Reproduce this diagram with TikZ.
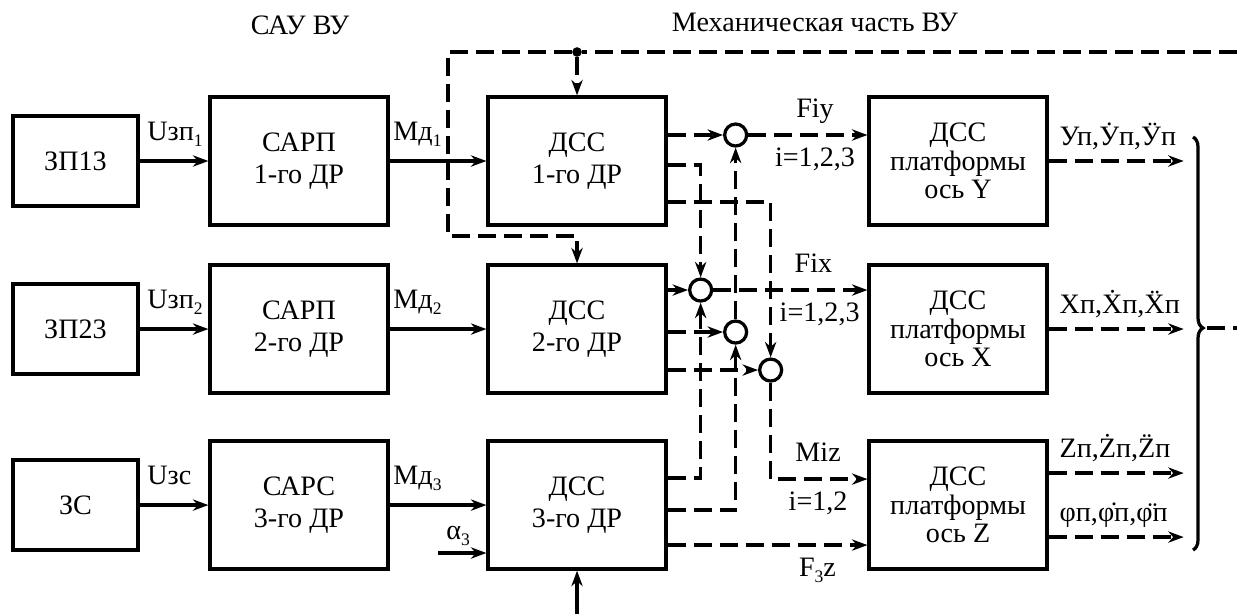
\documentclass[tikz,border=0pt]{standalone}
\usepackage{fontspec}
\setmainfont{Liberation Serif}
\usetikzlibrary{positioning, arrows.meta, calc, decorations.pathreplacing}
\newcommand{\dotover}[1]{\ooalign{#1\cr\hidewidth\raisebox{0.17em}{˙}\hidewidth\cr}}
\newcommand{\lowidx}[1]{\raisebox{-0.22em}{\fontsize{12.5}{12.5}\selectfont #1}}
\tikzset{
    >={Stealth[length=11pt, width=8pt, inset=3.5pt]}, % arrow heads
    blk/.style={draw, line width=2.3pt, minimum width=4.45cm, minimum height=3.2cm, align=center, inner sep=1pt,
        font=\fontsize{20}{22.7}\selectfont}, % big blocks
    plat/.style={blk, font=\fontsize{20}{20.3}\selectfont}, % platform blocks
    src/.style={draw, line width=2.3pt, minimum width=3.125cm, minimum height=2.25cm, inner sep=1pt},
    junc/.style={circle, draw, line width=2.3pt, fill=white, minimum size=0.55cm, inner sep=0pt},
    tap/.style={circle, fill, minimum size=0.24cm, inner sep=0pt},
    sig/.style={line width=2.3pt, dash pattern=on 0.45cm off 0.2cm},
    wire/.style={line width=2.3pt},
    lbl/.style={anchor=base west, inner sep=1pt, xshift=0.12cm, yshift=0.52cm}, % labels over the arrows
    mlbl/.style={lbl, xshift=-0.1cm}, % labels next to the dashed loop
    outlbl/.style={anchor=base west, inner sep=1pt, xshift=0.2cm, yshift=0.38cm}, % labels over the outputs
    up/.style={anchor=base, yshift=0.45cm},
    dn/.style={anchor=base, yshift=-0.78cm}
}

\begin{document}
\begin{tikzpicture}[every node/.style={font=\fontsize{20}{22.7}\selectfont}]
        \useasboundingbox (0,0) rectangle (30.925,-15.35);

        \node (tsau) at (7.5,-0.625) {САУ ВУ};
        \node (tmech) at (20.375,-0.55) {Механическая часть ВУ};

        % row 1
        \node[blk] (sarp1) at (7.475,-4.025) {САРП\\1-го ДР};
        \node[src] (zp13) [left = 1.72cm of sarp1] {ЗП13};
        \node[blk] (dss1) [right = 2.42cm of sarp1] {ДСС\\1-го ДР};
        \node[plat] (platY) [right = 4.995cm of dss1] {ДСС\\платформы\\ось Y};

        % row 2
        \node[blk] (sarp2) [below = 0.92cm of sarp1] {САРП\\2-го ДР};
        \node[src] (zp23) [left = 1.72cm of sarp2] {ЗП23};
        \node[blk] (dss2) [below = 0.92cm of dss1] {ДСС\\2-го ДР};
        \node[plat] (platX) [below = 0.92cm of platY] {ДСС\\платформы\\ось X};

        % row 3
        \node[blk] (sarc3) [below = 1.12cm of sarp2] {САРС\\3-го ДР};
        \node[src] (zs) [left = 1.72cm of sarc3] {ЗС};
        \node[blk] (dss3) [below = 1.12cm of dss2] {ДСС\\3-го ДР};
        \node[plat] (platZ) [below = 1.12cm of platX] {ДСС\\платформы\\ось Z};

        % summing junctions
        \node[junc] (s1) at ([xshift=1.7cm, yshift=0.65cm]dss1.east) {};
        \node[junc] (s2) at ([xshift=0.825cm, yshift=0.975cm]dss2.east) {};
        \node[junc] (s3) at ([xshift=1.7cm, yshift=-0.075cm]dss2.east) {};
        \node[junc] (s4) at ([xshift=2.575cm, yshift=-1.025cm]dss2.east) {};

        \coordinate (d1b) at ([yshift=-0.1cm]dss1.east);
        \coordinate (d1c) at ([yshift=-1.025cm]dss1.east);
        \coordinate (d3a) at ([yshift=0.675cm]dss3.east);
        \coordinate (d3b) at ([yshift=-0.125cm]dss3.east);
        \coordinate (d3c) at ([yshift=-1cm]dss3.east);
        \coordinate (pz1) at ([yshift=0.65cm]platZ.west);

        % free ends
        \coordinate (fbR) at (30.925,-1.3);
        \coordinate (fbLB) at (11.2,-5.9);
        \coordinate (bin) at (dss3.south |- 0,-15.35);
        \coordinate (ain) at (10.95,-13.825);
        \coordinate (oy) at ([xshift=3.375cm]platY.east);
        \coordinate (ox) at ([xshift=3.375cm]platX.east);
        \coordinate (oz) at ([xshift=3.375cm, yshift=0.8cm]platZ.east);
        \coordinate (ophi) at ([xshift=3.375cm, yshift=-0.8cm]platZ.east);
        \coordinate (brT) at (29.825,-3.425);
        \coordinate (brB) at (29.825,-13.75);
        \coordinate (brTip) at (30.175,-8.2);
        \coordinate (brOut) at (30.925,-8.2);

        \node[tap] (fbdot) at (dss1.north |- fbR) {};

        \draw[wire,->] (zp13) -- (sarp1) node[pos=0, lbl] {Uзп\lowidx{1}};
        \draw[wire,->] (sarp1) -- (dss1) node[pos=0, mlbl] {Мд\lowidx{1}};
        \draw[wire,->] (zp23) -- (sarp2) node[pos=0, lbl] {Uзп\lowidx{2}};
        \draw[wire,->] (sarp2) -- (dss2) node[pos=0, mlbl] {Мд\lowidx{2}};
        \draw[wire,->] (zs) -- (sarc3) node[pos=0, lbl] {Uзс};
        \draw[wire,->] (sarc3) -- (dss3) node[pos=0, mlbl] {Мд\lowidx{3}};
        \draw[wire,->] (ain) -- (dss3.west |- ain) node[midway, anchor=base, xshift=-0.1cm, yshift=0.33cm] {α\lowidx{3}};
        \draw[wire,->] (bin) -- (dss3.south);

        % feedback from the platform
        \draw[sig] (fbR) -- (fbdot);
        \draw[sig,->] (fbdot) -- (dss1.north);
        \draw[sig,->] (fbdot) -| (fbLB) -| (dss2.north);

        % forces and moments
        \draw[sig,->] (dss1.east |- s1) -- (s1);
        \draw[sig,->] (d1b) -| (s2);
        \draw[sig,->] (d1c) -| (s4);
        \draw[sig,->] (dss2.east |- s2) -- (s2);
        \draw[sig,->] (dss2.east |- s3) -- (s3);
        \draw[sig,->] (dss2.east |- s4) -- (s4);
        \draw[sig,->] (d3a) -| (s2);
        \draw[sig,->] (d3b) -| (s3);
        \draw[sig,->] (s3) -- (s1);

        \draw[sig,->] (s1) -- (platY.west |- s1) node[pos=0.56, up] {Fiy} node[pos=0.56, dn] {i=1,2,3};
        \draw[sig,->] (s2) -- (platX.west |- s2) node[pos=0.65, up] {Fix} node[pos=0.69, dn] {i=1,2,3};
        \draw[sig,->] (s4) |- (pz1) node[pos=0.745, up] {Miz} node[pos=0.745, dn] {i=1,2};
        \draw[sig,->] (d3c) -- (platZ.west |- d3c) node[pos=0.75, dn] {F\lowidx{3}z};

        % platform outputs
        \draw[sig,->] (platY.east) -- (oy) node[pos=0, outlbl] {Уп,\dotover{У}п,\"{У}п};
        \draw[sig,->] (platX.east) -- (ox) node[pos=0, outlbl] {Xп,\.{X}п,\"{X}п};
        \draw[sig,->] (platZ.east |- oz) -- (oz) node[pos=0, outlbl] {Zп,\.{Z}п,\"{Z}п};
        \draw[sig,->] (platZ.east |- ophi) -- (ophi) node[pos=0, outlbl] {φп,\.{φ}п,\"{φ}п};

        \draw[wire, decorate, decoration={brace, amplitude=0.25cm, aspect=0.4625}] (brT) -- (brB);
        \draw[sig] (brTip) -- (brOut);
    \end{tikzpicture}
\end{document}
